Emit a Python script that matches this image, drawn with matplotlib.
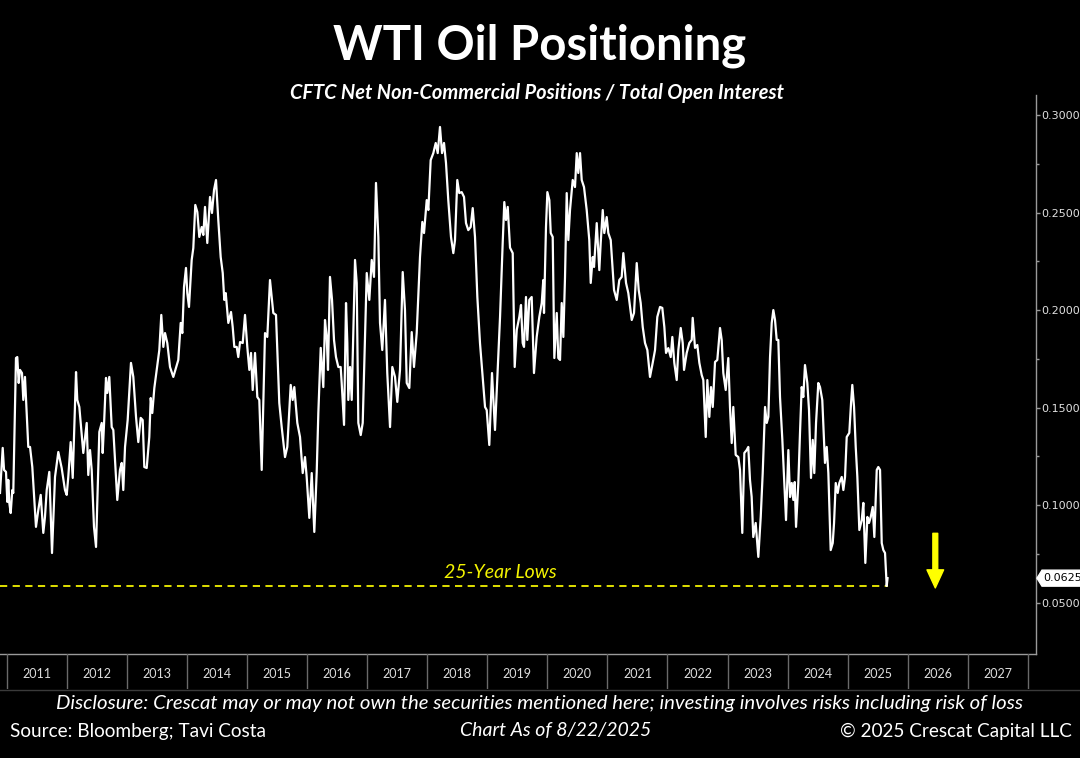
import matplotlib
matplotlib.use("Agg")
import matplotlib.pyplot as plt
from matplotlib.lines import Line2D
from matplotlib.patches import Polygon

# ---------------- data (decimal year, net non-commercial / open interest) -----------
dates = [
 2010.885, 2010.930, 2010.952, 2010.985, 2011.007, 2011.023, 2011.040, 2011.063, 2011.090, 2011.106,
 2011.151, 2011.173, 2011.196, 2011.218, 2011.251, 2011.273, 2011.301, 2011.356, 2011.385, 2011.423,
 2011.484, 2011.523, 2011.563, 2011.606, 2011.634, 2011.663, 2011.706, 2011.751, 2011.801, 2011.856,
 2011.912, 2011.967, 2011.996, 2012.022, 2012.062, 2012.096, 2012.151, 2012.172, 2012.206, 2012.272,
 2012.329, 2012.355, 2012.384, 2012.412, 2012.450, 2012.484, 2012.539, 2012.579, 2012.595, 2012.617,
 2012.650, 2012.672, 2012.705, 2012.745, 2012.772, 2012.838, 2012.883, 2012.912, 2012.938, 2012.967,
 2013.011, 2013.066, 2013.105, 2013.150, 2013.188, 2013.228, 2013.261, 2013.288, 2013.328, 2013.371,
 2013.395, 2013.421, 2013.455, 2013.495, 2013.538, 2013.571, 2013.605, 2013.633, 2013.671, 2013.716,
 2013.771, 2013.854, 2013.894, 2013.921, 2013.949, 2013.982, 2014.004, 2014.032, 2014.077, 2014.104,
 2014.137, 2014.171, 2014.204, 2014.244, 2014.271, 2014.299, 2014.337, 2014.382, 2014.415, 2014.449,
 2014.482, 2014.520, 2014.560, 2014.594, 2014.620, 2014.644, 2014.687, 2014.732, 2014.760, 2014.787,
 2014.827, 2014.853, 2014.882, 2014.927, 2014.965, 2015.003, 2015.037, 2015.065, 2015.093, 2015.132,
 2015.170, 2015.203, 2015.243, 2015.298, 2015.336, 2015.381, 2015.436, 2015.481, 2015.536, 2015.576,
 2015.631, 2015.669, 2015.726, 2015.759, 2015.786, 2015.836, 2015.881, 2015.926, 2015.964, 2015.992,
 2016.036, 2016.076, 2016.119, 2016.159, 2016.186, 2016.226, 2016.269, 2016.297, 2016.325, 2016.347,
 2016.380, 2016.414, 2016.447, 2016.480, 2016.519, 2016.558, 2016.575, 2016.614, 2016.647, 2016.669,
 2016.685, 2016.714, 2016.742, 2016.797, 2016.825, 2016.852, 2016.892, 2016.925, 2016.992, 2017.035,
 2017.075, 2017.113, 2017.146, 2017.185, 2017.213, 2017.251, 2017.296, 2017.334, 2017.380, 2017.418,
 2017.463, 2017.501, 2017.546, 2017.591, 2017.629, 2017.658, 2017.701, 2017.741, 2017.779, 2017.824,
 2017.879, 2017.918, 2017.946, 2017.991, 2018.018, 2018.057, 2018.101, 2018.141, 2018.174, 2018.212,
 2018.246, 2018.279, 2018.312, 2018.350, 2018.395, 2018.434, 2018.462, 2018.500, 2018.533, 2018.573,
 2018.612, 2018.645, 2018.683, 2018.723, 2018.757, 2018.795, 2018.834, 2018.878, 2018.923, 2018.962,
 2018.990, 2019.033, 2019.078, 2019.128, 2019.167, 2019.212, 2019.256, 2019.283, 2019.311, 2019.340,
 2019.378, 2019.423, 2019.456, 2019.490, 2019.533, 2019.561, 2019.589, 2019.611, 2019.644, 2019.666,
 2019.699, 2019.739, 2019.777, 2019.822, 2019.866, 2019.906, 2019.932, 2019.944, 2019.977, 2020.000,
 2020.033, 2020.056, 2020.089, 2020.116, 2020.156, 2020.182, 2020.211, 2020.239, 2020.266, 2020.294,
 2020.322, 2020.349, 2020.377, 2020.422, 2020.460, 2020.489, 2020.515, 2020.544, 2020.572, 2020.610,
 2020.655, 2020.698, 2020.722, 2020.755, 2020.777, 2020.822, 2020.865, 2020.888, 2020.922, 2020.948,
 2020.988, 2021.015, 2021.055, 2021.110, 2021.155, 2021.198, 2021.238, 2021.265, 2021.310, 2021.348,
 2021.405, 2021.443, 2021.488, 2021.521, 2021.554, 2021.588, 2021.626, 2021.665, 2021.709, 2021.754,
 2021.793, 2021.831, 2021.876, 2021.914, 2021.948, 2021.976, 2022.014, 2022.054, 2022.081, 2022.114,
 2022.154, 2022.181, 2022.221, 2022.254, 2022.276, 2022.320, 2022.364, 2022.404, 2022.420, 2022.459,
 2022.497, 2022.531, 2022.570, 2022.597, 2022.637, 2022.664, 2022.697, 2022.725, 2022.754, 2022.792,
 2022.830, 2022.875, 2022.903, 2022.930, 2022.970, 2023.013, 2023.041, 2023.070, 2023.096, 2023.136,
 2023.180, 2023.208, 2023.246, 2023.280, 2023.319, 2023.346, 2023.374, 2023.402, 2023.429, 2023.469,
 2023.513, 2023.553, 2023.586, 2023.625, 2023.653, 2023.680, 2023.708, 2023.736, 2023.763, 2023.791,
 2023.819, 2023.846, 2023.874, 2023.913, 2023.941, 2023.974, 2024.013, 2024.041, 2024.069, 2024.096,
 2024.119, 2024.141, 2024.179, 2024.207, 2024.235, 2024.262, 2024.290, 2024.329, 2024.357, 2024.390,
 2024.419, 2024.445, 2024.474, 2024.512, 2024.540, 2024.578, 2024.623, 2024.652, 2024.679, 2024.718,
 2024.752, 2024.774, 2024.802, 2024.835, 2024.862, 2024.902, 2024.929, 2024.957, 2024.985, 2025.028,
 2025.057, 2025.078, 2025.107, 2025.135, 2025.162, 2025.195, 2025.235, 2025.262, 2025.295, 2025.329,
 2025.356, 2025.385, 2025.418, 2025.445, 2025.485, 2025.511, 2025.540, 2025.568, 2025.595, 2025.623,
 2025.651, 2025.665,
]
values = [
 0.1062, 0.1293, 0.1180, 0.1170, 0.1016, 0.1129, 0.1011, 0.0959, 0.1077, 0.1062,
 0.1754, 0.1759, 0.1626, 0.1693, 0.1677, 0.1539, 0.1657, 0.1298, 0.1298, 0.1195,
 0.0888, 0.0975, 0.1052, 0.0857, 0.0939, 0.1077, 0.1170, 0.0754, 0.1144, 0.1272,
 0.1190, 0.1077, 0.1052, 0.1144, 0.1323, 0.1139, 0.1682, 0.1539, 0.1503, 0.1267,
 0.1421, 0.1154, 0.1282, 0.1180, 0.0888, 0.0785, 0.1375, 0.1421, 0.1267, 0.1411,
 0.1652, 0.1575, 0.1657, 0.1400, 0.1385, 0.1026, 0.1180, 0.1216, 0.1077, 0.1298,
 0.1436, 0.1729, 0.1657, 0.1452, 0.1323, 0.1447, 0.1436, 0.1195, 0.1190, 0.1349,
 0.1549, 0.1472, 0.1600, 0.1693, 0.1795, 0.1975, 0.1811, 0.1882, 0.1831, 0.1708,
 0.1657, 0.1744, 0.1934, 0.1882, 0.2118, 0.2216, 0.2087, 0.2016, 0.2257, 0.2318,
 0.2539, 0.2503, 0.2375, 0.2426, 0.2385, 0.2529, 0.2344, 0.2580, 0.2498, 0.2616,
 0.2667, 0.2462, 0.2272, 0.2190, 0.2052, 0.2087, 0.1934, 0.1990, 0.1913, 0.1811,
 0.1811, 0.1759, 0.1836, 0.1831, 0.1975, 0.1811, 0.1693, 0.1780, 0.1590, 0.1780,
 0.1554, 0.1539, 0.1180, 0.1882, 0.1862, 0.2154, 0.1985, 0.1975, 0.1523, 0.1400,
 0.1246, 0.1298, 0.1616, 0.1539, 0.1605, 0.1421, 0.1349, 0.1164, 0.1246, 0.1144,
 0.0934, 0.1164, 0.0862, 0.1170, 0.1472, 0.1806, 0.1605, 0.1949, 0.1862, 0.1693,
 0.2170, 0.2052, 0.1847, 0.1759, 0.1708, 0.1708, 0.1626, 0.1411, 0.2036, 0.1831,
 0.1539, 0.1708, 0.1539, 0.2257, 0.2139, 0.1421, 0.1359, 0.1421, 0.2190, 0.2052,
 0.2257, 0.2170, 0.2652, 0.2375, 0.1934, 0.1795, 0.2052, 0.1677, 0.1400, 0.1708,
 0.1657, 0.1529, 0.1693, 0.2195, 0.2000, 0.1626, 0.1600, 0.1887, 0.1708, 0.1882,
 0.2272, 0.2452, 0.2395, 0.2564, 0.2513, 0.2769, 0.2805, 0.2857, 0.2805, 0.2939,
 0.2805, 0.2857, 0.2754, 0.2564, 0.2375, 0.2292, 0.2359, 0.2667, 0.2600, 0.2605,
 0.2580, 0.2446, 0.2410, 0.2426, 0.2523, 0.2375, 0.2067, 0.1831, 0.1657, 0.1503,
 0.1487, 0.1308, 0.1677, 0.1385, 0.1657, 0.1965, 0.2344, 0.2554, 0.2462, 0.2529,
 0.2320, 0.2292, 0.1708, 0.1898, 0.1965, 0.2026, 0.1831, 0.1811, 0.2067, 0.1847,
 0.2052, 0.2067, 0.1677, 0.1862, 0.1965, 0.2036, 0.2154, 0.1985, 0.2426, 0.2605,
 0.2564, 0.2395, 0.2375, 0.1754, 0.1985, 0.1754, 0.1744, 0.2036, 0.1862, 0.2170,
 0.2600, 0.2359, 0.2513, 0.2667, 0.2631, 0.2805, 0.2703, 0.2805, 0.2667, 0.2631,
 0.2513, 0.2359, 0.2139, 0.2272, 0.2221, 0.2446, 0.2205, 0.2344, 0.2513, 0.2395,
 0.2477, 0.2395, 0.2359, 0.2103, 0.2052, 0.2154, 0.2170, 0.2292, 0.2139, 0.2087,
 0.1949, 0.1985, 0.2241, 0.2103, 0.2036, 0.1913, 0.1831, 0.1795, 0.1657, 0.1729,
 0.1795, 0.1965, 0.2016, 0.2011, 0.1913, 0.1780, 0.1805, 0.1759, 0.1862, 0.1729,
 0.1641, 0.1795, 0.1908, 0.1831, 0.1693, 0.1780, 0.1831, 0.1847, 0.1960, 0.1806,
 0.1821, 0.1729, 0.1667, 0.1641, 0.1349, 0.1641, 0.1452, 0.1605, 0.1503, 0.1734,
 0.1744, 0.1908, 0.1847, 0.1677, 0.1590, 0.1754, 0.1503, 0.1318, 0.1503, 0.1257,
 0.1246, 0.1180, 0.0857, 0.1267, 0.1282, 0.1298, 0.1129, 0.1042, 0.0836, 0.0908,
 0.0734, 0.0939, 0.1164, 0.1503, 0.1421, 0.1452, 0.1759, 0.1934, 0.2000, 0.1949,
 0.1847, 0.1847, 0.1554, 0.1334, 0.1144, 0.0923, 0.1282, 0.1041, 0.1113, 0.1026,
 0.1118, 0.0888, 0.1113, 0.1370, 0.1605, 0.1554, 0.1718, 0.1626, 0.1487, 0.1139,
 0.1334, 0.1164, 0.1421, 0.1626, 0.1605, 0.1539, 0.1216, 0.1298, 0.1164, 0.0769,
 0.0805, 0.0908, 0.1113, 0.1062, 0.1113, 0.1144, 0.1077, 0.1144, 0.1349, 0.1370,
 0.1523, 0.1616, 0.1503, 0.1298, 0.1144, 0.0872, 0.0923, 0.1011, 0.0703, 0.0939,
 0.0908, 0.0939, 0.0990, 0.0836, 0.1180, 0.1195, 0.1180, 0.0805, 0.0769, 0.0754,
 0.0585, 0.0625,
]
years = list(range(2011, 2028))
y_ticks = [0.05, 0.10, 0.15, 0.20, 0.25, 0.30]
low_level = 0.0585
last_value = 0.0625

title = "WTI Oil Positioning"
subtitle = "CFTC Net Non-Commercial Positions / Total Open Interest"
low_label = "25-Year Lows"
disclosure = ("Disclosure: Crescat may or may not own the securities mentioned here; "
              "investing involves risks including risk of loss")
source = "Source: Bloomberg; Tavi Costa"
asof = "Chart As of 8/22/2025"
copyright_txt = "\u00a9 2025 Crescat Capital LLC"

# ---------------- figure -----------------------------------------------------------
W, H = 1080, 758
fig = plt.figure(figsize=(W / 100, H / 100), dpi=100, facecolor="black")
FONT = ["Lato", "DejaVu Sans"]

def fx(px):
    return px / W

def fy(py):
    return 1 - py / H

XMIN, XMAX = 2010.885, 2028.137
YMIN, YMAX = 0.0236, 0.3103

ax = fig.add_axes([0, fy(654), fx(1036), fy(95) - fy(654)], facecolor="black")
ax.set_xlim(XMIN, XMAX)
ax.set_ylim(YMIN, YMAX)

ax.plot(dates, values, color="white", lw=1.6, solid_joinstyle="round", zorder=3)
ax.hlines(low_level, dates[0], dates[-1], colors="#f2f200", lw=1.3,
          linestyles=(0, (4, 3)), zorder=2)
ax.text(2019.21, 0.0652, low_label, color="#f2f200", fontsize=14,
        fontstyle="italic", family=FONT, ha="center", va="center")
ax.annotate("", xy=(2026.46, 0.0575), xytext=(2026.46, 0.0855),
            arrowprops=dict(facecolor="#ffff00", edgecolor="#ffff00",
                            width=3.5, headwidth=12, headlength=13))

# spines / axes
for s in ["top", "left"]:
    ax.spines[s].set_visible(False)
ax.spines["right"].set_color("#9a9a9a")
ax.spines["right"].set_linewidth(1.0)
ax.spines["bottom"].set_color("#9a9a9a")
ax.spines["bottom"].set_linewidth(1.0)
ax.set_xticks([])
ax.yaxis.tick_right()
ax.set_yticks(y_ticks)
ax.set_yticklabels([f"{v:.4f}" for v in y_ticks])
ax.set_yticks([0.075, 0.125, 0.175, 0.225, 0.275], minor=True)
ax.tick_params(axis="y", which="major", colors="#9a9a9a", labelcolor="#e0e0e0",
               length=3, width=1, pad=1, labelsize=8)
ax.tick_params(axis="y", which="minor", colors="#9a9a9a", length=2, width=1)
for lab in ax.get_yticklabels():
    lab.set_family(["DejaVu Sans"])

# last value callout (white tag with a left-pointing tip)
ytag = fy(654) + (last_value - YMIN) / (YMAX - YMIN) * (fy(95) - fy(654))
half = 8 / H
tag = Polygon([[fx(1037), ytag], [fx(1042), ytag + half], [fx(1080), ytag + half],
               [fx(1080), ytag - half], [fx(1042), ytag - half]],
              closed=True, transform=fig.transFigure, facecolor="white",
              edgecolor="white", zorder=5)
fig.add_artist(tag)
fig.text(fx(1043), ytag, f"{last_value:.4f}", ha="left", va="center", fontsize=8,
         color="black", family=["DejaVu Sans"], zorder=6)

# year band
band = fig.add_axes([0, fy(689), fx(1036), fy(654) - fy(689)], facecolor="black")
band.set_xlim(XMIN, XMAX)
band.set_ylim(0, 1)
band.axis("off")
for yr in years + [years[-1] + 1]:
    band.axvline(yr, color="#6a6a6a", lw=1.0)
for yr in years:
    band.text(yr + 0.5, 0.42, str(yr), color="#dddddd", fontsize=9,
              family=FONT, ha="center", va="center")
fig.add_artist(Line2D([0, 1], [fy(690), fy(690)], color="#3a3a3a", lw=1.0))

# titles & footer
fig.text(0.5, fy(46), title, color="white", fontsize=34, fontweight="bold",
         family=FONT, ha="center", va="center")
fig.text(fx(537), fy(93), subtitle, color="white", fontsize=14.4, fontweight="bold",
         fontstyle="italic", family=FONT, ha="center", va="center")
fig.text(fx(540), fy(703), disclosure, color="white", fontsize=14.7,
         fontstyle="italic", family=FONT, ha="center", va="center")
fig.text(fx(10), fy(731), source, color="white", fontsize=13.7,
         family=FONT, ha="left", va="center")
fig.text(fx(556), fy(731), asof, color="white", fontsize=14, fontstyle="italic",
         family=FONT, ha="center", va="center")
fig.text(fx(1072), fy(731), copyright_txt, color="white", fontsize=13.6,
         family=FONT, ha="right", va="center")

fig.savefig("out.png", dpi=100, facecolor="black")
